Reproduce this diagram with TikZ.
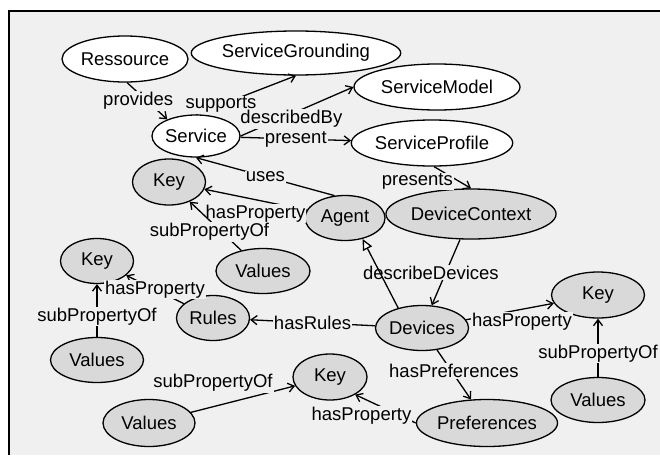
\documentclass[tikz,border=0pt]{standalone}
\usepackage{fontspec}
\setmainfont{Liberation Sans}
\usetikzlibrary{shapes.geometric,arrows.meta}
\definecolor{bggray}{HTML}{F0F0F0}
\definecolor{nodegray}{HTML}{D9D9D9}
\tikzset{
  cls/.style={ellipse, draw, line width=1.3pt, fill=white, inner sep=0pt},
  inst/.style={cls, fill=nodegray},
  lbl/.style={fill=bggray, inner sep=1pt},
  arr/.style={-{Straight Barb[length=6pt,width=9pt]}, line width=1.3pt},
  isa/.style={-{Triangle[length=11pt,width=10pt,fill=white]}, line width=1.3pt},
}
\begin{document}
\begin{tikzpicture}[x=1pt, y=-1pt, font=\fontsize{18.5}{21}\selectfont]
    \useasboundingbox (0,0) rectangle (660,455);
    \fill[bggray] (9,11) rectangle (660,455);
    \draw[line width=1.3pt] (9,455) -- (9,11) -- (660,11);

    % classes
    \node[cls, minimum width=126pt, minimum height=46pt] (res) at (125,59) {Ressource};
    \node[cls, minimum width=204pt, minimum height=44pt] (sg) at (296,53) {ServiceGrounding};
    \node[cls, minimum width=166pt, minimum height=46pt] (sm) at (437,87) {ServiceModel};
    \node[cls, minimum width=88pt, minimum height=42pt] (svc) at (196,136) {Service};
    \node[cls, minimum width=160pt, minimum height=46pt] (sp) at (432,143) {ServiceProfile};

    % context part
    \node[inst, minimum width=73pt, minimum height=46pt] (keyA) at (169,182) {Key};
    \node[inst, minimum width=80pt, minimum height=45pt] (agent) at (345,218) {Agent};
    \node[inst, minimum width=167pt, minimum height=50pt] (dc) at (471,214) {DeviceContext};
    \node[inst, minimum width=94pt, minimum height=45pt] (valA) at (263,271) {Values};
    \node[inst, minimum width=73pt, minimum height=45pt] (keyB) at (97,261) {Key};
    \node[inst, minimum width=73pt, minimum height=45pt] (rules) at (213,318) {Rules};
    \node[inst, minimum width=93pt, minimum height=45pt] (valB) at (97,360) {Values};
    \node[inst, minimum width=92pt, minimum height=45pt] (dev) at (422,328) {Devices};
    \node[inst, minimum width=93pt, minimum height=46pt] (keyC) at (598,295) {Key};
    \node[inst, minimum width=94pt, minimum height=45pt] (valC) at (598,400) {Values};
    \node[inst, minimum width=74pt, minimum height=46pt] (keyD) at (330,377) {Key};
    \node[inst, minimum width=140pt, minimum height=47pt] (pref) at (487,423) {Preferences};
    \node[inst, minimum width=92pt, minimum height=47pt] (valD) at (149,423) {Values};

    \draw[arr] (res.-85) -- node[lbl, xshift=-9pt] {provides} (svc.150);
    \draw[arr] (svc.north) -- node[lbl, pos=0.25] {supports} (sg.south);
    \draw[arr] (svc.east) -- node[lbl, pos=0.45, yshift=-5pt] {describedBy} (sm.west);
    \draw[arr] (svc) -- node[lbl] {present} (sp);
    \draw[arr] (agent.115) -- node[lbl] {uses} (svc.south);
    \draw[arr] (agent) -- node[lbl, yshift=-14pt] {hasProperty} (keyA);
    \draw[arr] (valA) -- node[lbl, xshift=-6pt, yshift=-6pt] {subPropertyOf} (keyA);
    \draw[arr] (sp.-85) -- node[lbl, anchor=east, xshift=2pt, yshift=-4pt] {presents} (dc.north);
    \draw[arr] (dc) -- node[lbl, xshift=-15pt] {describeDevices} (dev);
    \draw[isa] (dev.140) -- (agent.-50);
    \draw[arr] (dev) -- node[lbl] {hasRules} (rules);
    \draw[arr] (rules) -- node[lbl] {hasProperty} (keyB);
    \draw[arr] (valB) -- node[lbl, yshift=-6pt] {subPropertyOf} (keyB);
    \draw[arr] (dev) -- node[lbl, xshift=12pt, yshift=-10pt] {hasProperty} (keyC);
    \draw[arr] (valC) -- node[lbl, yshift=-6pt] {subPropertyOf} (keyC);
    \draw[arr] (dev) -- node[lbl, yshift=4pt] {hasPreferences} (pref);
    \draw[arr] (pref.west) -- node[lbl, xshift=-24pt, yshift=-7pt] {hasProperty} (keyD.-35);
    \draw[arr] (valD) -- node[lbl, xshift=-30pt, yshift=16pt] {subPropertyOf} (keyD);
\end{tikzpicture}
\end{document}
